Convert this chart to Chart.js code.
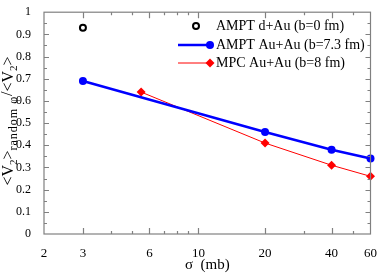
<!DOCTYPE html>
<html>
<head>
<meta charset="utf-8">
<script src="https://cdn.jsdelivr.net/npm/chart.js@4"></script>
<style>
html,body{margin:0;padding:0;background:#fff;}
#wrap{width:381px;height:273px;position:relative;}
</style>
</head>
<body>
<div id="wrap"><canvas id="chart"></canvas></div>
<script>
// DATA
const seriesNames = ["AMPT d+Au (b=0 fm)", "AMPT Au+Au (b=7.3 fm)", "MPC Au+Au (b=8 fm)"];
const dauSigma = [3];
const dauRatio = [0.93];
const auauSigma = [3, 20, 40, 60];
const auauRatio = [0.69, 0.46, 0.38, 0.34];
const mpcSigma = [5.5, 20, 40, 60];
const mpcRatio = [0.64, 0.41, 0.31, 0.26];
const xLabelTicks = [2, 3, 6, 10, 20, 40, 60];
const xMajorTicks = [3, 6, 10, 20, 40];
const xMinorTicks = [4, 5, 7, 8, 9, 30, 50];

const FONT = '"Liberation Serif", "Times New Roman", serif';
const AXIS = '#808080';

const pts = (xs, ys) => xs.map((x,i)=>({x, y: ys[i]}));

// inward ticks on all four sides + frame
const frameTicks = {
    id: 'frameTicks',
    afterDatasetsDraw(chart){
        const {ctx, chartArea:a, scales:{x, y}} = chart;
        ctx.save();
        ctx.strokeStyle = AXIS;
        ctx.lineWidth = 1.2;
        ctx.strokeRect(a.left, a.top, a.right-a.left, a.bottom-a.top);
        ctx.beginPath();
        const xt = (v, len)=>{
            const px = Math.round(x.getPixelForValue(v))+0.5;
            ctx.moveTo(px, a.bottom); ctx.lineTo(px, a.bottom-len);
            ctx.moveTo(px, a.top); ctx.lineTo(px, a.top+len);
        };
        xMajorTicks.forEach(v=>xt(v, 6));
        xMinorTicks.forEach(v=>xt(v, 3));
        for(let i=1;i<20;i++){
            const len = i%2===0 ? 5 : 3;
            const py = Math.round(y.getPixelForValue(i*0.05))+0.5;
            ctx.moveTo(a.left, py); ctx.lineTo(a.left+len, py);
            ctx.moveTo(a.right, py); ctx.lineTo(a.right-len, py);
        }
        ctx.stroke();
        ctx.restore();
    },
    afterDraw(chart){
        const {ctx, chartArea:a} = chart;
        ctx.save();
        ctx.fillStyle = '#000';
        ctx.textBaseline = 'middle';

        // LEGEND
        const lx = 216, ly = [26, 45, 63];
        ctx.font = '14px ' + FONT;
        ctx.textAlign = 'left';
        seriesNames.forEach((n,i)=>ctx.fillText(n, lx, ly[i]));
        // open circle
        ctx.strokeStyle = '#000'; ctx.lineWidth = 2;
        ctx.beginPath(); ctx.arc(196, ly[0], 3, 0, Math.PI*2); ctx.stroke();
        // blue line + dot
        ctx.strokeStyle = '#0000ff'; ctx.lineWidth = 2.5;
        ctx.beginPath(); ctx.moveTo(178, ly[1]); ctx.lineTo(210, ly[1]); ctx.stroke();
        ctx.fillStyle = '#0000ff';
        ctx.beginPath(); ctx.arc(210, ly[1], 4, 0, Math.PI*2); ctx.fill();
        // red line + diamond
        ctx.strokeStyle = '#ff0000'; ctx.lineWidth = 1;
        ctx.beginPath(); ctx.moveTo(178, ly[2]); ctx.lineTo(210, ly[2]); ctx.stroke();
        ctx.fillStyle = '#ff0000';
        ctx.beginPath(); ctx.moveTo(210, ly[2]-4.5); ctx.lineTo(214.5, ly[2]); ctx.lineTo(210, ly[2]+4.5); ctx.lineTo(205.5, ly[2]); ctx.closePath(); ctx.fill();

        // X TITLE
        ctx.fillStyle = '#000';
        ctx.textAlign = 'center';
        ctx.font = '15px ' + FONT;
        ctx.fillText('\u03c3  (mb)', (a.left+a.right)/2, 265);

        // Y TITLE (rotated, with subscripts)
        ctx.textBaseline = 'alphabetic';
        ctx.translate(13, 121);
        ctx.rotate(-Math.PI/2);
        const parts = [
            {t:'<V', f:16, dy:0, ls:0},
            {t:'2', f:11, dy:4, ls:0},
            {t:'>', f:16, dy:0, ls:0},
            {t:'random \u03c6', f:12, dy:4, ls:1},
            {t:'/', f:16, dy:-1, ls:0},
            {t:'<V', f:16, dy:0, ls:0},
            {t:'2', f:11, dy:4, ls:0},
            {t:'>', f:16, dy:0, ls:0}
        ];
        let total = 0;
        parts.forEach(p=>{
            ctx.font = p.f+'px '+FONT; ctx.letterSpacing = p.ls+'px';
            p.w = ctx.measureText(p.t).width; total += p.w;
        });
        let cx = -total/2;
        ctx.textAlign = 'left';
        parts.forEach(p=>{
            ctx.font = p.f+'px '+FONT; ctx.letterSpacing = p.ls+'px';
            ctx.fillText(p.t, cx, p.dy); cx += p.w;
        });
        ctx.restore();
    }
};

new Chart(document.getElementById('chart'), {
    type: 'line',
    data: {
        datasets: [
            {
                label: seriesNames[0],
                data: pts(dauSigma, dauRatio),
                showLine: false,
                pointStyle: 'circle',
                pointRadius: 3,
                pointBorderWidth: 2,
                pointBorderColor: '#000',
                pointBackgroundColor: 'rgba(0,0,0,0)',
                clip: false
            },
            {
                label: seriesNames[1],
                data: pts(auauSigma, auauRatio),
                borderColor: '#0000ff',
                borderWidth: 2.5,
                pointStyle: 'circle',
                pointRadius: 4,
                pointBorderWidth: 0,
                pointBackgroundColor: '#0000ff',
                clip: false
            },
            {
                label: seriesNames[2],
                data: pts(mpcSigma, mpcRatio),
                borderColor: '#ff0000',
                borderWidth: 1,
                pointStyle: 'rectRot',
                pointRadius: 4.5,
                pointBorderWidth: 0,
                pointBackgroundColor: '#ff0000',
                clip: false
            }
        ]
    },
    options: {
        responsive: true,
        maintainAspectRatio: false,
        animation: false,
        events: [],
        layout: { padding: { left: 0, top: 6, right: 9, bottom: 0 } },
        plugins: { legend: { display: false }, tooltip: { enabled: false } },
        scales: {
            x: {
                type: 'logarithmic',
                min: 2, max: 60,
                grid: { display: false },
                border: { display: false },
                afterBuildTicks: s => { s.ticks = xLabelTicks.map(v=>({value:v})); },
                afterFit: s => { s.height = 39; },
                ticks: {
                    autoSkip: false, maxRotation: 0, padding: 4,
                    color: '#000',
                    font: { family: FONT, size: 13 },
                    callback: v => String(v)
                }
            },
            y: {
                min: 0, max: 1,
                grid: { display: false },
                border: { display: false },
                afterFit: s => { s.width = 44; },
                ticks: {
                    stepSize: 0.1, padding: 5,
                    color: '#000',
                    font: { family: FONT, size: 12 },
                    callback: v => String(Math.round(v*10)/10)
                }
            }
        }
    },
    plugins: [frameTicks]
});
</script>
</body>
</html>
